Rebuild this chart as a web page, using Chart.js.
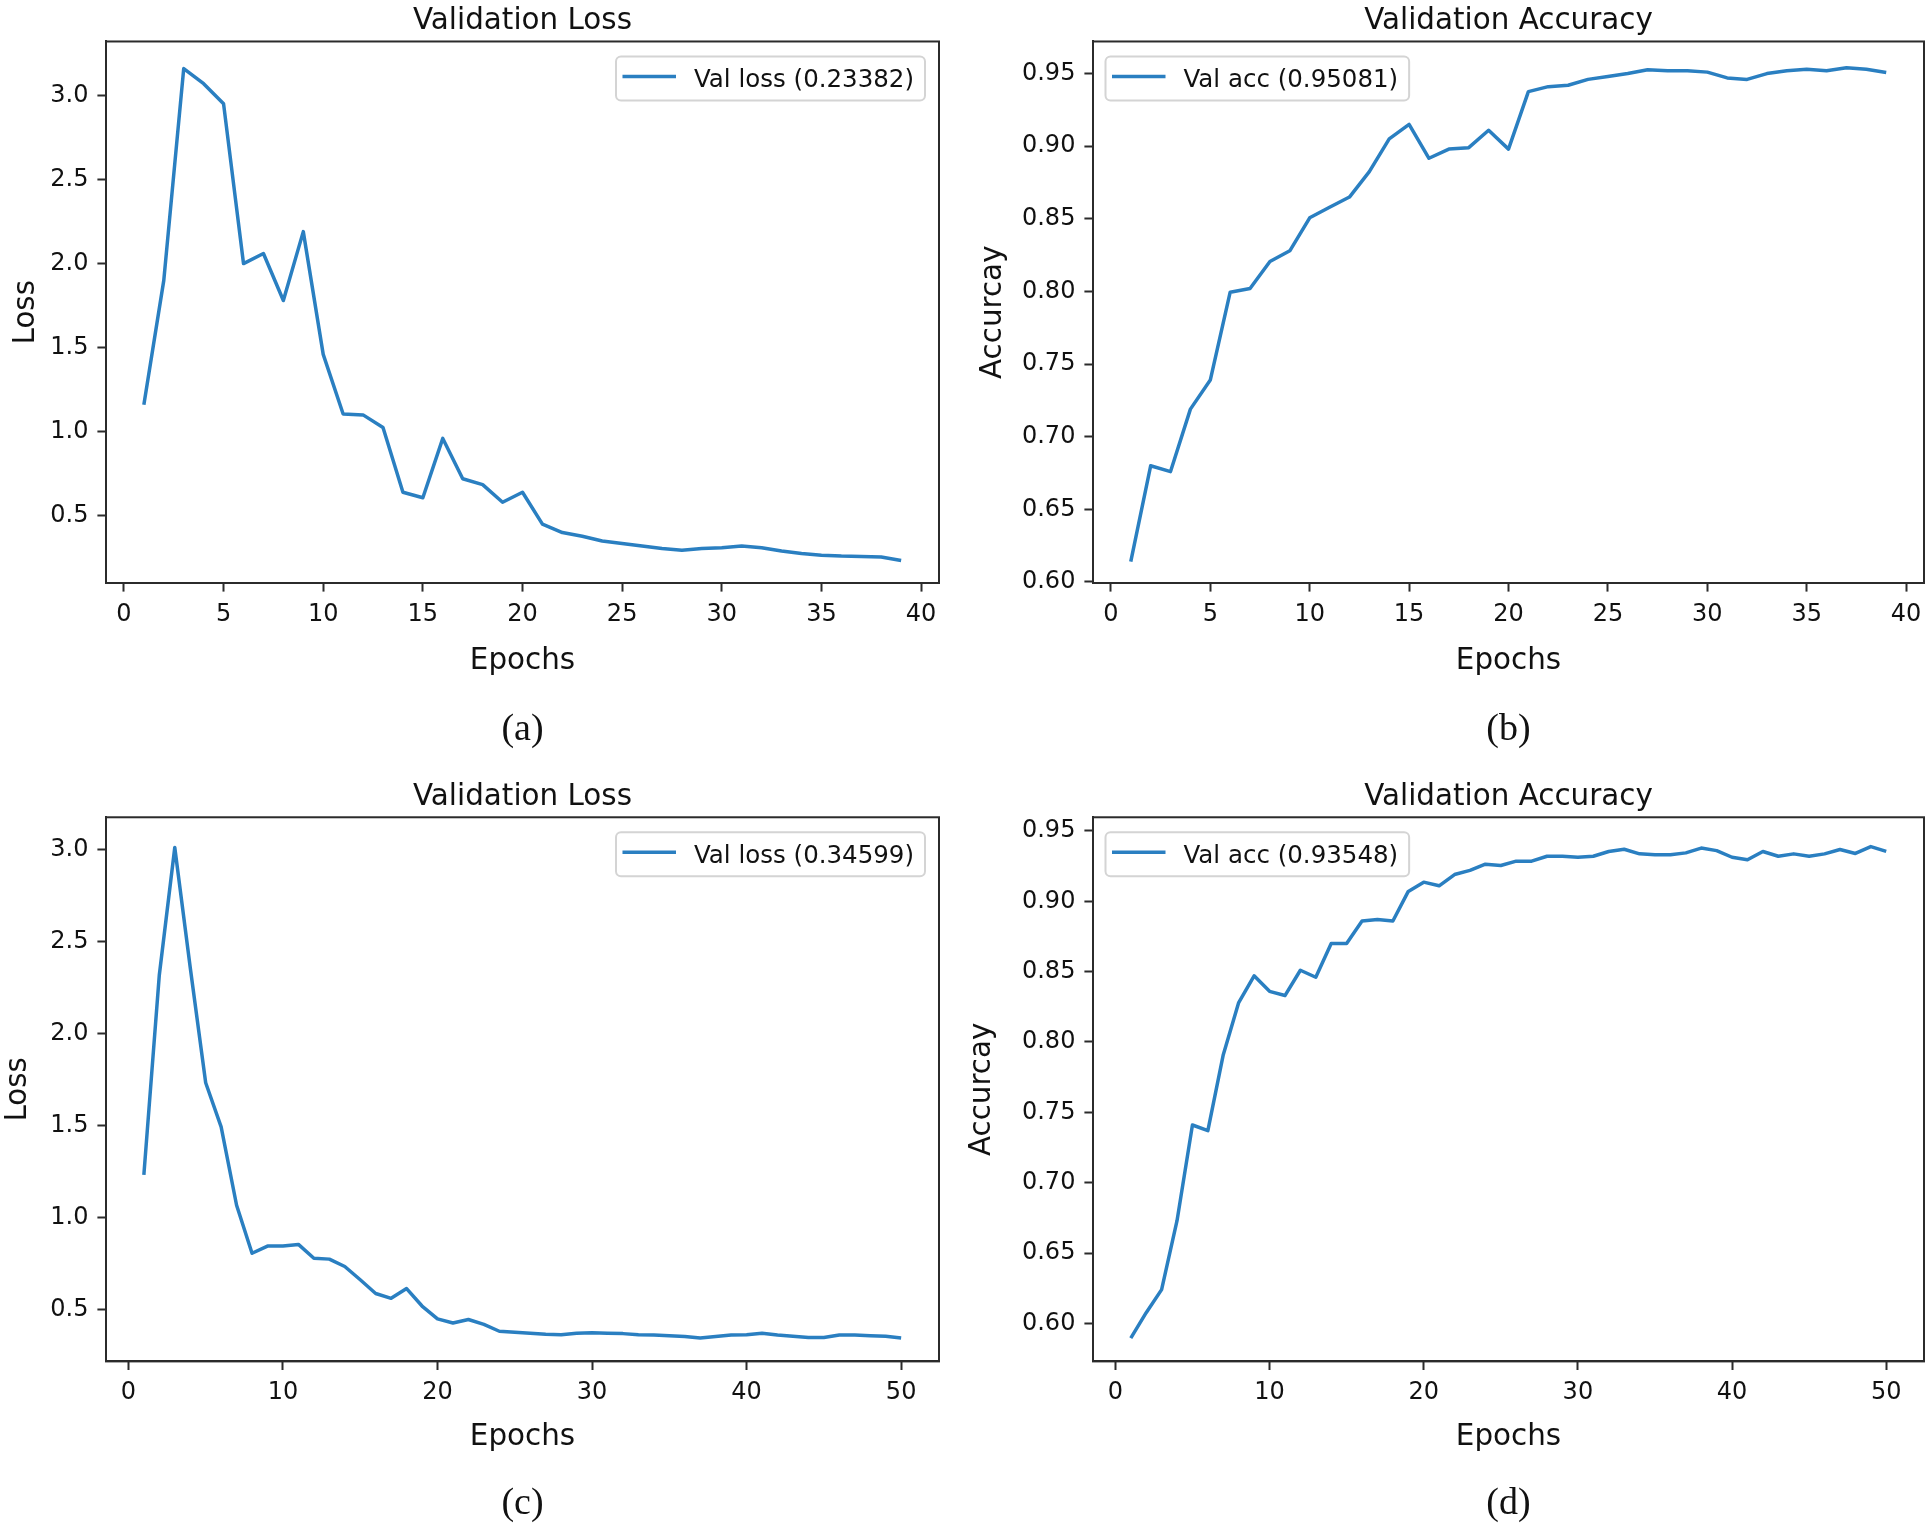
<!DOCTYPE html>
<html>
<head>
<meta charset="utf-8">
<title>Validation Loss / Validation Accuracy</title>
<script src="https://cdn.jsdelivr.net/npm/chart.js@4.4.1/dist/chart.umd.min.js"></script>
<style>
  html, body { margin: 0; padding: 0; background: #fff; }
  #wrap { position: relative; width: 1930px; height: 1527px; overflow: hidden; background: #fff; }
  canvas { position: absolute; }
</style>
</head>
<body>
<div id="wrap">
  <canvas id="chartA" width="965" height="765" style="left:0px;top:0px;width:965px;height:765px"></canvas>
  <canvas id="chartB" width="965" height="765" style="left:965px;top:0px;width:965px;height:765px"></canvas>
  <canvas id="chartC" width="965" height="762" style="left:0px;top:765px;width:965px;height:762px"></canvas>
  <canvas id="chartD" width="965" height="762" style="left:965px;top:765px;width:965px;height:762px"></canvas>
</div>
<script>
// =================
// DATA
// =================
let epochs39 = [1, 2, 3, 4, 5, 6, 7, 8, 9, 10, 11, 12, 13, 14, 15, 16, 17, 18, 19, 20,
    21, 22, 23, 24, 25, 26, 27, 28, 29, 30, 31, 32, 33, 34, 35, 36, 37, 38, 39];
let epochs50 = [1, 2, 3, 4, 5, 6, 7, 8, 9, 10, 11, 12, 13, 14, 15, 16, 17, 18, 19, 20,
    21, 22, 23, 24, 25, 26, 27, 28, 29, 30, 31, 32, 33, 34, 35, 36, 37, 38, 39, 40,
    41, 42, 43, 44, 45, 46, 47, 48, 49, 50];

// (a) validation loss, 39 epochs
let lossA = [1.16, 1.90, 3.16, 3.07, 2.95, 2.00, 2.06, 1.78, 2.19, 1.46,
    1.105, 1.10, 1.025, 0.64, 0.607, 0.96, 0.72, 0.685, 0.58, 0.64,
    0.45, 0.40, 0.378, 0.35, 0.335, 0.32, 0.305, 0.295, 0.305, 0.31,
    0.32, 0.31, 0.29, 0.275, 0.265, 0.26, 0.258, 0.255, 0.234];

// (b) validation accuracy, 39 epochs
let accB = [0.614, 0.680, 0.676, 0.719, 0.739, 0.7995, 0.802, 0.8206, 0.828, 0.8507,
    0.858, 0.865, 0.8825, 0.905, 0.915, 0.8917, 0.898, 0.899, 0.911, 0.898,
    0.9376, 0.941, 0.942, 0.946, 0.948, 0.950, 0.9527, 0.952, 0.952, 0.951,
    0.947, 0.946, 0.950, 0.952, 0.953, 0.952, 0.954, 0.953, 0.9508];

// (c) validation loss, 50 epochs
let lossC = [1.233, 2.32, 3.013, 2.36, 1.734, 1.494, 1.068, 0.807, 0.846, 0.846,
    0.855, 0.78, 0.775, 0.735, 0.663, 0.588, 0.562, 0.615, 0.52, 0.45,
    0.428, 0.447, 0.42, 0.383, 0.377, 0.372, 0.367, 0.364, 0.372, 0.375,
    0.372, 0.37, 0.364, 0.362, 0.359, 0.354, 0.346, 0.354, 0.362, 0.364,
    0.372, 0.362, 0.356, 0.349, 0.349, 0.362, 0.362, 0.359, 0.356, 0.346];

// (d) validation accuracy, 50 epochs
let accD = [0.5896, 0.6076, 0.624, 0.673, 0.741, 0.737, 0.791, 0.828, 0.847, 0.836,
    0.833, 0.851, 0.846, 0.870, 0.870, 0.886, 0.887, 0.886, 0.907, 0.9136,
    0.911, 0.919, 0.922, 0.9264, 0.9254, 0.9285, 0.9285, 0.932, 0.932, 0.9313,
    0.932, 0.9354, 0.937, 0.9337, 0.933, 0.933, 0.9344, 0.9378, 0.936, 0.9313,
    0.9295, 0.9354, 0.932, 0.9337, 0.932, 0.9337, 0.9368, 0.934, 0.9389, 0.9355];

// tick labels
let xTicks40 = [0, 5, 10, 15, 20, 25, 30, 35, 40];
let xTicks50 = [0, 10, 20, 30, 40, 50];
let yTicksLoss = [0.5, 1.0, 1.5, 2.0, 2.5, 3.0];
let yTicksAcc = [0.60, 0.65, 0.70, 0.75, 0.80, 0.85, 0.90, 0.95];

// =================
// STYLE
// =================
const LINE = "#2a7fc1";
const INK = "#111111";
const SPINE = "#2b2b2b";
Chart.defaults.font.family = "'DejaVu Sans', 'Noto Sans', sans-serif";
Chart.defaults.color = INK;

// box round the plot area (matplotlib spines)
const framePlugin = {
    id: "frame",
    afterDraw(chart) {
        let ctx = chart.ctx;
        let a = chart.chartArea;
        ctx.save();
        ctx.strokeStyle = SPINE;
        ctx.lineWidth = 2;
        ctx.strokeRect(a.left, a.top, a.right - a.left, a.bottom - a.top);
        ctx.restore();
    }
};

// legend box inside the plot area
const boxLegendPlugin = {
    id: "boxLegend",
    afterDraw(chart, args, opts) {
        let ctx = chart.ctx;
        let a = chart.chartArea;
        let ds = chart.data.datasets[0];
        ctx.save();
        ctx.font = "24.5px 'DejaVu Sans'";
        let tw = ctx.measureText(ds.label).width;
        let w = 78 + tw + 11;
        let h = 44;
        let x = opts.side === "right" ? a.right - 14 - w : a.left + 12.5;
        let y = a.top + 15;

        ctx.beginPath();
        ctx.roundRect(x, y, w, h, 5);
        ctx.fillStyle = "rgba(255,255,255,0.85)";
        ctx.fill();
        ctx.strokeStyle = "#d4d4d4";
        ctx.lineWidth = 2;
        ctx.stroke();

        ctx.beginPath();
        ctx.moveTo(x + 6.5, y + 20);
        ctx.lineTo(x + 60, y + 20);
        ctx.strokeStyle = ds.borderColor;
        ctx.lineWidth = 3.5;
        ctx.stroke();

        ctx.fillStyle = INK;
        ctx.textBaseline = "middle";
        ctx.textAlign = "left";
        ctx.fillText(ds.label, x + 78, y + 24);
        ctx.restore();
    }
};

// =================
// PANEL
// =================
function buatPanel(id, p) {
    let ctx = document.getElementById(id).getContext("2d");
    let tickGrid = {
        display: true,
        drawOnChartArea: false,
        drawTicks: true,
        tickLength: 8.6,
        tickWidth: 2,
        tickColor: SPINE
    };
    let border = { display: true, color: SPINE, width: 2 };

    return new Chart(ctx, {
        type: "line",
        data: {
            labels: p.epochs,
            datasets: [{
                label: p.label,
                data: p.values,
                borderColor: LINE,
                borderWidth: 3.5,
                borderJoinStyle: "round",
                pointRadius: 0,
                tension: 0,
                fill: false
            }]
        },
        options: {
            responsive: false,
            animation: false,
            devicePixelRatio: 1,
            layout: { padding: { left: 0, right: p.padRight, top: 0, bottom: 0 } },
            plugins: {
                legend: { display: false },
                tooltip: { enabled: false },
                title: {
                    display: true,
                    text: p.title,
                    fullSize: false,
                    color: INK,
                    font: { size: 29.4, weight: "normal", lineHeight: 1.2 },
                    padding: { top: p.titleTop, bottom: p.titleBottom }
                },
                subtitle: {
                    display: true,
                    position: "bottom",
                    text: p.caption,
                    fullSize: false,
                    color: INK,
                    font: { family: "'Liberation Serif', serif", size: 38, weight: "normal", lineHeight: 1.2 },
                    padding: { top: 0, bottom: p.capBottom }
                },
                boxLegend: { side: p.legendSide }
            },
            scales: {
                x: {
                    type: "linear",
                    min: p.xMin,
                    max: p.xMax,
                    afterBuildTicks: s => { s.ticks = p.xTicks.map(v => ({ value: v })); },
                    afterFit: s => {
                        s.height = p.xHeight;
                        s.paddingLeft = 0; s.paddingRight = 0;
                        s.paddingTop = 0; s.paddingBottom = 0;
                    },
                    ticks: {
                        color: INK,
                        font: { size: 24 },
                        padding: 8.3,
                        maxRotation: 0,
                        autoSkip: false,
                        callback: v => String(v)
                    },
                    grid: tickGrid,
                    border: border,
                    title: {
                        display: true,
                        text: "Epochs",
                        color: INK,
                        font: { size: 29.4, lineHeight: 1 },
                        padding: { top: 0, bottom: p.xTitleBottom }
                    }
                },
                y: {
                    type: "linear",
                    min: p.yMin,
                    max: p.yMax,
                    afterBuildTicks: s => { s.ticks = p.yTicks.map(v => ({ value: v })); },
                    afterFit: s => {
                        s.width = p.yWidth;
                        s.paddingLeft = 0; s.paddingRight = 0;
                        s.paddingTop = 0; s.paddingBottom = 0;
                    },
                    ticks: {
                        color: INK,
                        font: { size: 24 },
                        padding: 9,
                        autoSkip: false,
                        callback: v => v.toFixed(p.decimals)
                    },
                    grid: tickGrid,
                    border: border,
                    title: {
                        display: true,
                        text: p.yTitle,
                        color: INK,
                        font: { size: 29.4, lineHeight: 1 },
                        padding: { top: p.yTitleTop, bottom: 0 }
                    }
                }
            }
        },
        plugins: [framePlugin, boxLegendPlugin]
    });
}

// (a)
buatPanel("chartA", {
    epochs: epochs39, values: lossA, label: "Val loss (0.23382)",
    title: "Validation Loss", yTitle: "Loss", caption: "(a)",
    xMin: -0.9, xMax: 40.9, yMin: 0.100, yMax: 3.321,
    xTicks: xTicks40, yTicks: yTicksLoss, decimals: 1, legendSide: "right",
    padRight: 26, yWidth: 106, xHeight: 124.7,
    titleTop: 4, titleBottom: 2.2, capBottom: 11.7,
    xTitleBottom: 32, yTitleTop: 11.5
});

// (b)
buatPanel("chartB", {
    epochs: epochs39, values: accB, label: "Val acc (0.95081)",
    title: "Validation Accuracy", yTitle: "Accurcay", caption: "(b)",
    xMin: -0.9, xMax: 40.9, yMin: 0.5993, yMax: 0.9721,
    xTicks: xTicks40, yTicks: yTicksAcc, decimals: 2, legendSide: "left",
    padRight: 6, yWidth: 128, xHeight: 124.7,
    titleTop: 4, titleBottom: 2.2, capBottom: 11.7,
    xTitleBottom: 32, yTitleTop: 14
});

// (c)
buatPanel("chartC", {
    epochs: epochs50, values: lossC, label: "Val loss (0.34599)",
    title: "Validation Loss", yTitle: "Loss", caption: "(c)",
    xMin: -1.45, xMax: 52.45, yMin: 0.219, yMax: 3.177,
    xTicks: xTicks50, yTicks: yTicksLoss, decimals: 1, legendSide: "right",
    padRight: 26, yWidth: 106, xHeight: 120,
    titleTop: 15.1, titleBottom: 1.9, capBottom: 0,
    xTitleBottom: 29.2, yTitleTop: 3.8
});

// (d)
buatPanel("chartD", {
    epochs: epochs50, values: accD, label: "Val acc (0.93548)",
    title: "Validation Accuracy", yTitle: "Accurcay", caption: "(d)",
    xMin: -1.45, xMax: 52.45, yMin: 0.573, yMax: 0.9597,
    xTicks: xTicks50, yTicks: yTicksAcc, decimals: 2, legendSide: "left",
    padRight: 6, yWidth: 128, xHeight: 120,
    titleTop: 15.1, titleBottom: 1.9, capBottom: 0,
    xTitleBottom: 29.2, yTitleTop: 3
});
</script>
</body>
</html>
